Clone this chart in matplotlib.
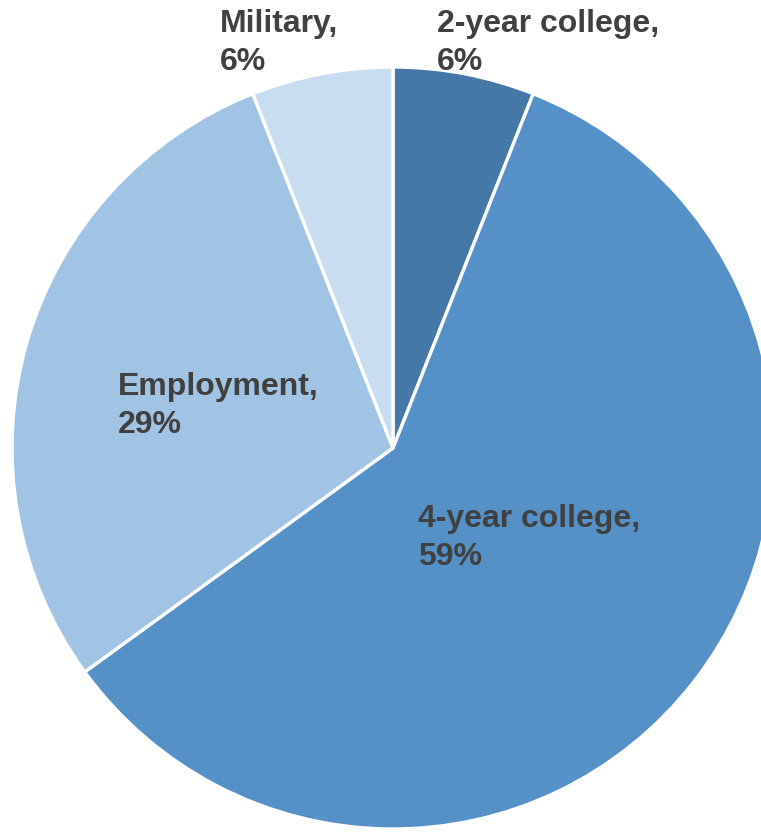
"""Pie chart of post-graduation plans."""
from __future__ import annotations

import matplotlib
matplotlib.use("Agg")
import matplotlib.pyplot as plt

CATEGORIES = ["2-year college", "4-year college", "Employment", "Military"]
SHARES = [6, 59, 29, 6]
COLORS = ["#4678A7", "#5591C7", "#A2C4E4", "#C9DDF1"]

# label anchor (left x, last-line baseline y) in pixels from top-left
LABEL_POS = [(437, 70), (418, 565), (118, 433), (220, 70)]

W, H = 761, 832
CX, CY, R = 393, 448, 381


def main() -> None:
    plt.rcParams["font.family"] = ["Liberation Sans", "DejaVu Sans"]
    fig = plt.figure(figsize=(W / 100, H / 100), dpi=100)
    ax = fig.add_axes([0, 0, 1, 1])

    ax.pie(SHARES, colors=COLORS, startangle=90, counterclock=False,
           center=(CX, H - CY), radius=R, frame=True,
           wedgeprops=dict(edgecolor="white", linewidth=2.4))
    ax.set_xlim(0, W)
    ax.set_ylim(0, H)
    ax.set_aspect("equal")
    ax.axis("off")

    for name, share, (lx, ly) in zip(CATEGORIES, SHARES, LABEL_POS):
        ax.text(lx, H - ly, f"{name},\n{share}%", ha="left", va="baseline",
                fontsize=23, fontweight="bold", color="#404040",
                linespacing=1.36)

    fig.savefig("out.png", dpi=100)
    plt.close(fig)


if __name__ == "__main__":
    main()
